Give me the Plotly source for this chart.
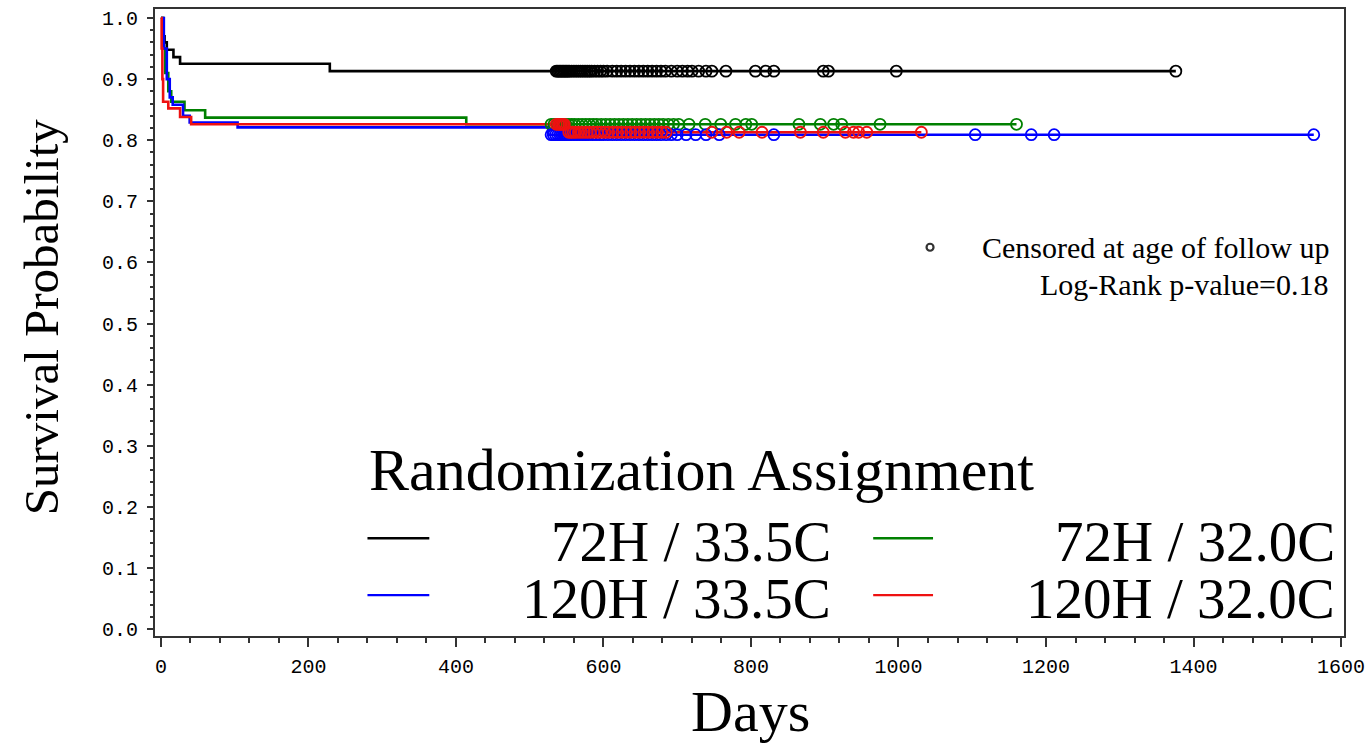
import plotly.graph_objects as go

# ---------------- data ----------------
group_names = ["72H / 33.5C", "72H / 32.0C", "120H / 33.5C", "120H / 32.0C"]
group_colors = ["#000000", "#008000", "#0000ff", "#ee1111"]

# event times (days) and survival after each step
black_times = [0, 3, 5, 8, 17, 26, 229]
black_surv = [1.0, 0.97, 0.96, 0.948, 0.936, 0.925, 0.913]
black_censor = [536, 538, 540, 542, 544, 546, 548, 550, 552, 554, 557, 560, 563, 566, 569,
                572, 575, 578, 581, 584, 588, 592, 596, 600, 605, 612, 618, 624, 630, 636,
                642, 648, 654, 660, 666, 672, 678, 684, 692, 700, 707, 714, 720, 729, 739,
                747, 766, 806, 820, 831, 898, 905, 997, 1376]

green_times = [0, 3, 6, 10, 14, 32, 60, 414]
green_surv = [1.0, 0.95, 0.91, 0.88, 0.863, 0.849, 0.837, 0.826]
green_censor = [529, 533, 537, 541, 545, 549, 553, 557, 561, 566, 571, 576, 581, 586, 591,
                597, 603, 609, 615, 621, 627, 633, 639, 645, 651, 657, 663, 669, 675, 681,
                688, 695, 702, 716, 738, 759, 779, 793, 801, 865, 894, 912, 923, 975, 1160]

blue_times = [0, 4, 8, 12, 16, 30, 39, 104, 525]
blue_surv = [1.0, 0.95, 0.9, 0.87, 0.858, 0.84, 0.829, 0.821, 0.809]
blue_censor = [529, 532, 535, 538, 541, 544, 547, 550, 553, 556, 560, 564, 568, 572, 576,
               580, 585, 590, 595, 600, 606, 612, 618, 624, 630, 636, 642, 648, 654, 660,
               666, 672, 678, 685, 692, 700, 712, 725, 739, 757, 831, 1104, 1180, 1211, 1563]

red_times = [0, 1, 2, 3, 10, 26, 41, 550]
red_surv = [1.0, 0.95, 0.9, 0.863, 0.852, 0.838, 0.826, 0.813]
red_censor = [536, 539, 541, 543, 545, 547, 553, 556, 559, 562, 566, 570, 574, 578, 582,
              587, 592, 597, 602, 607, 613, 619, 625, 631, 637, 643, 649, 655, 661, 667,
              673, 679, 685, 747, 767, 784, 815, 867, 898, 928, 939, 946, 957, 1031]

x_tick_vals = [0, 200, 400, 600, 800, 1000, 1200, 1400, 1600]
y_tick_vals = [0.0, 0.1, 0.2, 0.3, 0.4, 0.5, 0.6, 0.7, 0.8, 0.9, 1.0]

legend_title = "Randomization Assignment"
censor_label = "Censored at age of follow up"
pvalue_label = "Log-Rank p-value=0.18"
x_title = "Days"
y_title = "Survival Probability"

# ---------------- figure ----------------
W, H = 1372, 747
L, R, T, B = 155, 25, 7, 111
PW, PH = W - L - R, H - T - B


def px_x(px):
    return (px - L) / PW


def px_y(py):
    return (H - B - py) / PH


def surv_at(times, surv, t):
    val = surv[0]
    for ti, si in zip(times, surv):
        if ti <= t:
            val = si
    return val


groups = [
    (group_names[0], group_colors[0], black_times, black_surv, black_censor),
    (group_names[1], group_colors[1], green_times, green_surv, green_censor),
    (group_names[2], group_colors[2], blue_times, blue_surv, blue_censor),
    (group_names[3], group_colors[3], red_times, red_surv, red_censor),
]

fig = go.Figure()
for name, color, times, surv, cens in groups:
    end_t = max(max(cens), times[-1])
    fig.add_trace(go.Scatter(
        x=times + [end_t], y=surv + [surv[-1]],
        mode="lines", line=dict(color=color, width=2.6, shape="hv"),
        name=name, showlegend=False, hoverinfo="skip"))
for name, color, times, surv, cens in groups:
    fig.add_trace(go.Scatter(
        x=cens, y=[surv_at(times, surv, c) for c in cens],
        mode="markers",
        marker=dict(symbol="circle-open", size=11, color=color, line=dict(width=1.8, color=color)),
        name=name + " censored", showlegend=False))

serif = "Liberation Serif"
mono = "Liberation Mono"

annotations = [
    dict(text=x_title, x=px_x(752), y=px_y(712), xref="paper", yref="paper",
         xanchor="center", yanchor="middle", showarrow=False,
         font=dict(family=serif, size=58, color="black")),
    dict(text=y_title, x=px_x(41), y=px_y(316), xref="paper", yref="paper", textangle=-90,
         xanchor="center", yanchor="middle", showarrow=False,
         font=dict(family=serif, size=49, color="black")),
    dict(text=legend_title, x=px_x(368), y=px_y(469), xref="paper", yref="paper",
         xanchor="left", yanchor="middle", showarrow=False,
         font=dict(family=serif, size=60, color="black")),
    dict(text=censor_label, x=px_x(1334), y=px_y(246), xref="paper", yref="paper",
         xanchor="right", yanchor="middle", showarrow=False,
         font=dict(family=serif, size=30, color="black")),
    dict(text=pvalue_label, x=px_x(1334), y=px_y(283), xref="paper", yref="paper",
         xanchor="right", yanchor="middle", showarrow=False,
         font=dict(family=serif, size=30, color="black")),
]

# legend entries: (sample line x0, x1, text right edge, row centre)
legend_pos = [(368, 430, 835, 541), (875, 935, 1340, 541), (368, 430, 835, 598), (875, 935, 1340, 598)]
shapes = []
for (name, color, *_), (lx0, lx1, tx, ry) in zip(groups, legend_pos):
    shapes.append(dict(type="line", xref="paper", yref="paper",
                       x0=px_x(lx0), x1=px_x(lx1), y0=px_y(ry - 3), y1=px_y(ry - 3),
                       line=dict(color=color, width=2.4)))
    annotations.append(dict(text=name, x=px_x(tx), y=px_y(ry), xref="paper", yref="paper",
                            xanchor="right", yanchor="middle", showarrow=False,
                            font=dict(family=serif, size=57, color="black")))

# censored symbol for the inset key
shapes.append(dict(type="circle", xref="paper", yref="paper", xsizemode="pixel", ysizemode="pixel",
                   xanchor=px_x(932), yanchor=px_y(246), x0=-3.5, x1=3.5, y0=-3.5, y1=3.5,
                   line=dict(color="#333333", width=2.2)))

axis_common = dict(
    showline=True, linecolor="#333333", linewidth=2, mirror=True,
    showgrid=False, zeroline=False, ticks="outside", tickcolor="#333333", tickwidth=1.5,
    tickfont=dict(family=mono, size=20, color="black"),
)

fig.update_layout(
    width=W, height=H,
    margin=dict(l=L, r=R, t=T, b=B),
    paper_bgcolor="white", plot_bgcolor="white",
    showlegend=False,
    xaxis=dict(range=[-8, 1604], tickvals=x_tick_vals, ticklen=9, ticklabelstandoff=2,
               minor=dict(dtick=40, tick0=0, ticklen=5, ticks="outside", tickcolor="#333333",
                          tickwidth=1.5, showgrid=False),
               **axis_common),
    yaxis=dict(range=[-0.0114, 1.0147], tickvals=y_tick_vals, tickformat=".1f", ticklen=6,
               ticklabelstandoff=5,
               minor=dict(dtick=0.02, tick0=0, ticklen=3, ticks="outside", tickcolor="#333333",
                          tickwidth=1.5, showgrid=False),
               **axis_common),
    annotations=annotations,
    shapes=shapes,
)

fig.write_html(
    "out.html",
    config={"displayModeBar": False},
    post_script="document.body.style.margin='0px';document.body.style.padding='0px';"
                "document.documentElement.style.overflow='hidden';",
)
